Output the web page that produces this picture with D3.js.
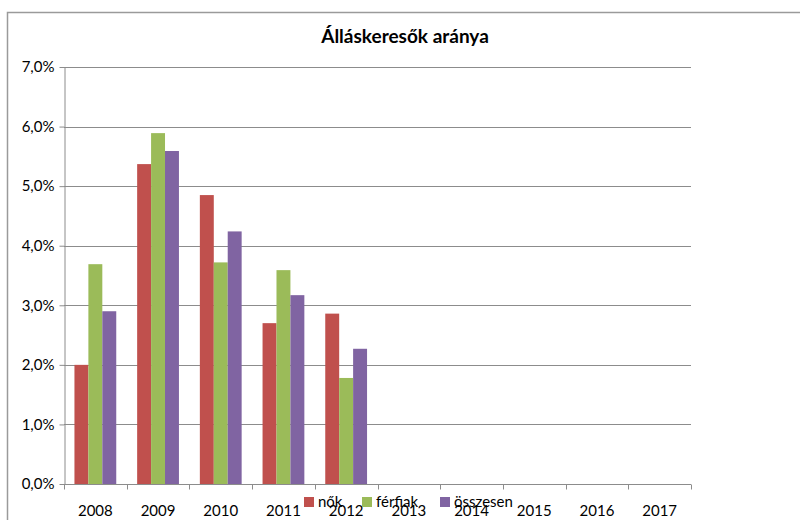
<!DOCTYPE html>
<html>
<head>
<meta charset="utf-8">
<script src="https://cdn.jsdelivr.net/npm/d3@7"></script>
<style>
  body { margin: 0; background: #fff; }
  svg { display: block; font-family: Lato, "Open Sans", sans-serif; }
</style>
</head>
<body>
<svg id="svg0" width="800" height="520"></svg>
<script>

var years = ['2008', '2009', '2010', '2011', '2012', '2013', '2014', '2015', '2016', '2017'];
var seriesNames = ['nők', 'férfiak', 'összesen'];
var nok = [2.0, 5.37, 4.85, 2.70, 2.86, null, null, null, null, null];
var ferfiak = [3.69, 5.89, 3.72, 3.59, 1.78, null, null, null, null, null];
var osszesen = [2.90, 5.59, 4.24, 3.17, 2.27, null, null, null, null, null];
var yTicks = [0, 1, 2, 3, 4, 5, 6, 7];
var colors = ['#C0504D', '#9BBB59', '#8064A2'];

var width = 800;
var height = 520;

var marginLeft = 64;
var marginRight = 109;
var marginTop = 67;
var marginBottom = 36;

var svg0 = d3.select('#svg0');

// outer chart frame
svg0.append('path')
    .attr('d', 'M7.5,520 V12.5 H800')
    .attr('fill', 'none')
    .attr('stroke', '#9a9a9a')
    .attr('stroke-width', 1.5);

svg0.append('text')
    .attr('x', 405)
    .attr('y', 43)
    .attr('text-anchor', 'middle')
    .attr('font-size', 19)
    .attr('font-weight', 'bold')
    .attr('fill', '#000')
    .text('Álláskeresők aránya');

var x0 = d3.scaleBand()
    .domain(years)
    .range([marginLeft, width - marginRight])
    .paddingInner(0)
    .paddingOuter(0);

// gap between clusters = 1.5 bar widths
var x1 = d3.scaleBand()
    .domain(seriesNames)
    .range([0, x0.bandwidth()])
    .paddingInner(0)
    .paddingOuter(0.75);

var y = d3.scaleLinear()
    .domain([0, 7])
    .range([height - marginBottom, marginTop]);

var fmt = function(d){ return d.toFixed(1).replace('.', ',') + '%'; };

// gridlines
svg0.append('g')
    .selectAll('line')
    .data(yTicks)
    .enter()
    .append('line')
    .attr('x1', marginLeft)
    .attr('x2', width - marginRight)
    .attr('y1', function(d){ return Math.round(y(d)) + 0.5; })
    .attr('y2', function(d){ return Math.round(y(d)) + 0.5; })
    .attr('stroke', '#8c8c8c')
    .attr('stroke-width', 1);

var table = years.map(function(yr, i){
    return {year: yr, values: [nok[i], ferfiak[i], osszesen[i]]};
});

var groups = svg0.append('g')
    .selectAll('g')
    .data(table)
    .enter()
    .append('g')
    .attr('transform', function(d){ return 'translate(' + x0(d.year) + ',0)'; });

groups.selectAll('rect')
    .data(function(d){
        return d.values.map(function(v, j){ return {name: seriesNames[j], value: v, c: colors[j]}; })
            .filter(function(e){ return e.value !== null; });
    })
    .enter()
    .append('rect')
    .attr('x', function(d){ return x1(d.name); })
    .attr('width', x1.bandwidth())
    .attr('y', function(d){ return y(d.value); })
    .attr('height', function(d){ return y(0) - y(d.value); })
    .attr('fill', function(d){ return d.c; });

// y axis
var yAxis = svg0.append('g')
    .attr('transform', 'translate(' + (marginLeft + 0.5) + ',0)')
    .call(d3.axisLeft(y).tickValues(yTicks).tickFormat(fmt).tickSize(5).tickSizeOuter(0).tickPadding(5));
yAxis.select('.domain').attr('stroke', '#8c8c8c');
yAxis.selectAll('.tick line').attr('stroke', '#8c8c8c');
yAxis.selectAll('text')
    .attr('font-size', 15)
    .attr('font-family', 'Lato, sans-serif')
    .attr('fill', '#000');

// x axis, ticks at category boundaries
var xAxis = svg0.append('g')
    .attr('transform', 'translate(0,' + (Math.round(y(0)) + 0.5) + ')');
xAxis.append('line')
    .attr('x1', marginLeft)
    .attr('x2', width - marginRight)
    .attr('stroke', '#8c8c8c');
xAxis.selectAll('line.tk')
    .data(years.concat(['end']))
    .enter()
    .append('line')
    .attr('class', 'tk')
    .attr('x1', function(d){ return Math.round(d === 'end' ? x0.range()[1] : x0(d)) + 0.5; })
    .attr('x2', function(d){ return Math.round(d === 'end' ? x0.range()[1] : x0(d)) + 0.5; })
    .attr('y1', 0)
    .attr('y2', 5)
    .attr('stroke', '#8c8c8c');
xAxis.selectAll('text')
    .data(years)
    .enter()
    .append('text')
    .attr('x', function(d){ return x0(d) + x0.bandwidth() / 2; })
    .attr('y', 31)
    .attr('text-anchor', 'middle')
    .attr('font-size', 15)
    .attr('fill', '#000')
    .text(function(d){ return d; });

// legend (overlaps the x labels like in the original)
var legendX = [304, 362, 440];
var legend = svg0.append('g')
    .selectAll('g')
    .data(seriesNames)
    .enter()
    .append('g')
    .attr('transform', function(d, i){ return 'translate(' + legendX[i] + ',497)'; });
legend.append('rect')
    .attr('width', 10)
    .attr('height', 10)
    .attr('fill', function(d, i){ return colors[i]; });
legend.append('text')
    .attr('x', 14)
    .attr('y', 10)
    .attr('font-size', 15)
    .attr('fill', '#000')
    .text(function(d){ return d; });

</script>
</body>
</html>
